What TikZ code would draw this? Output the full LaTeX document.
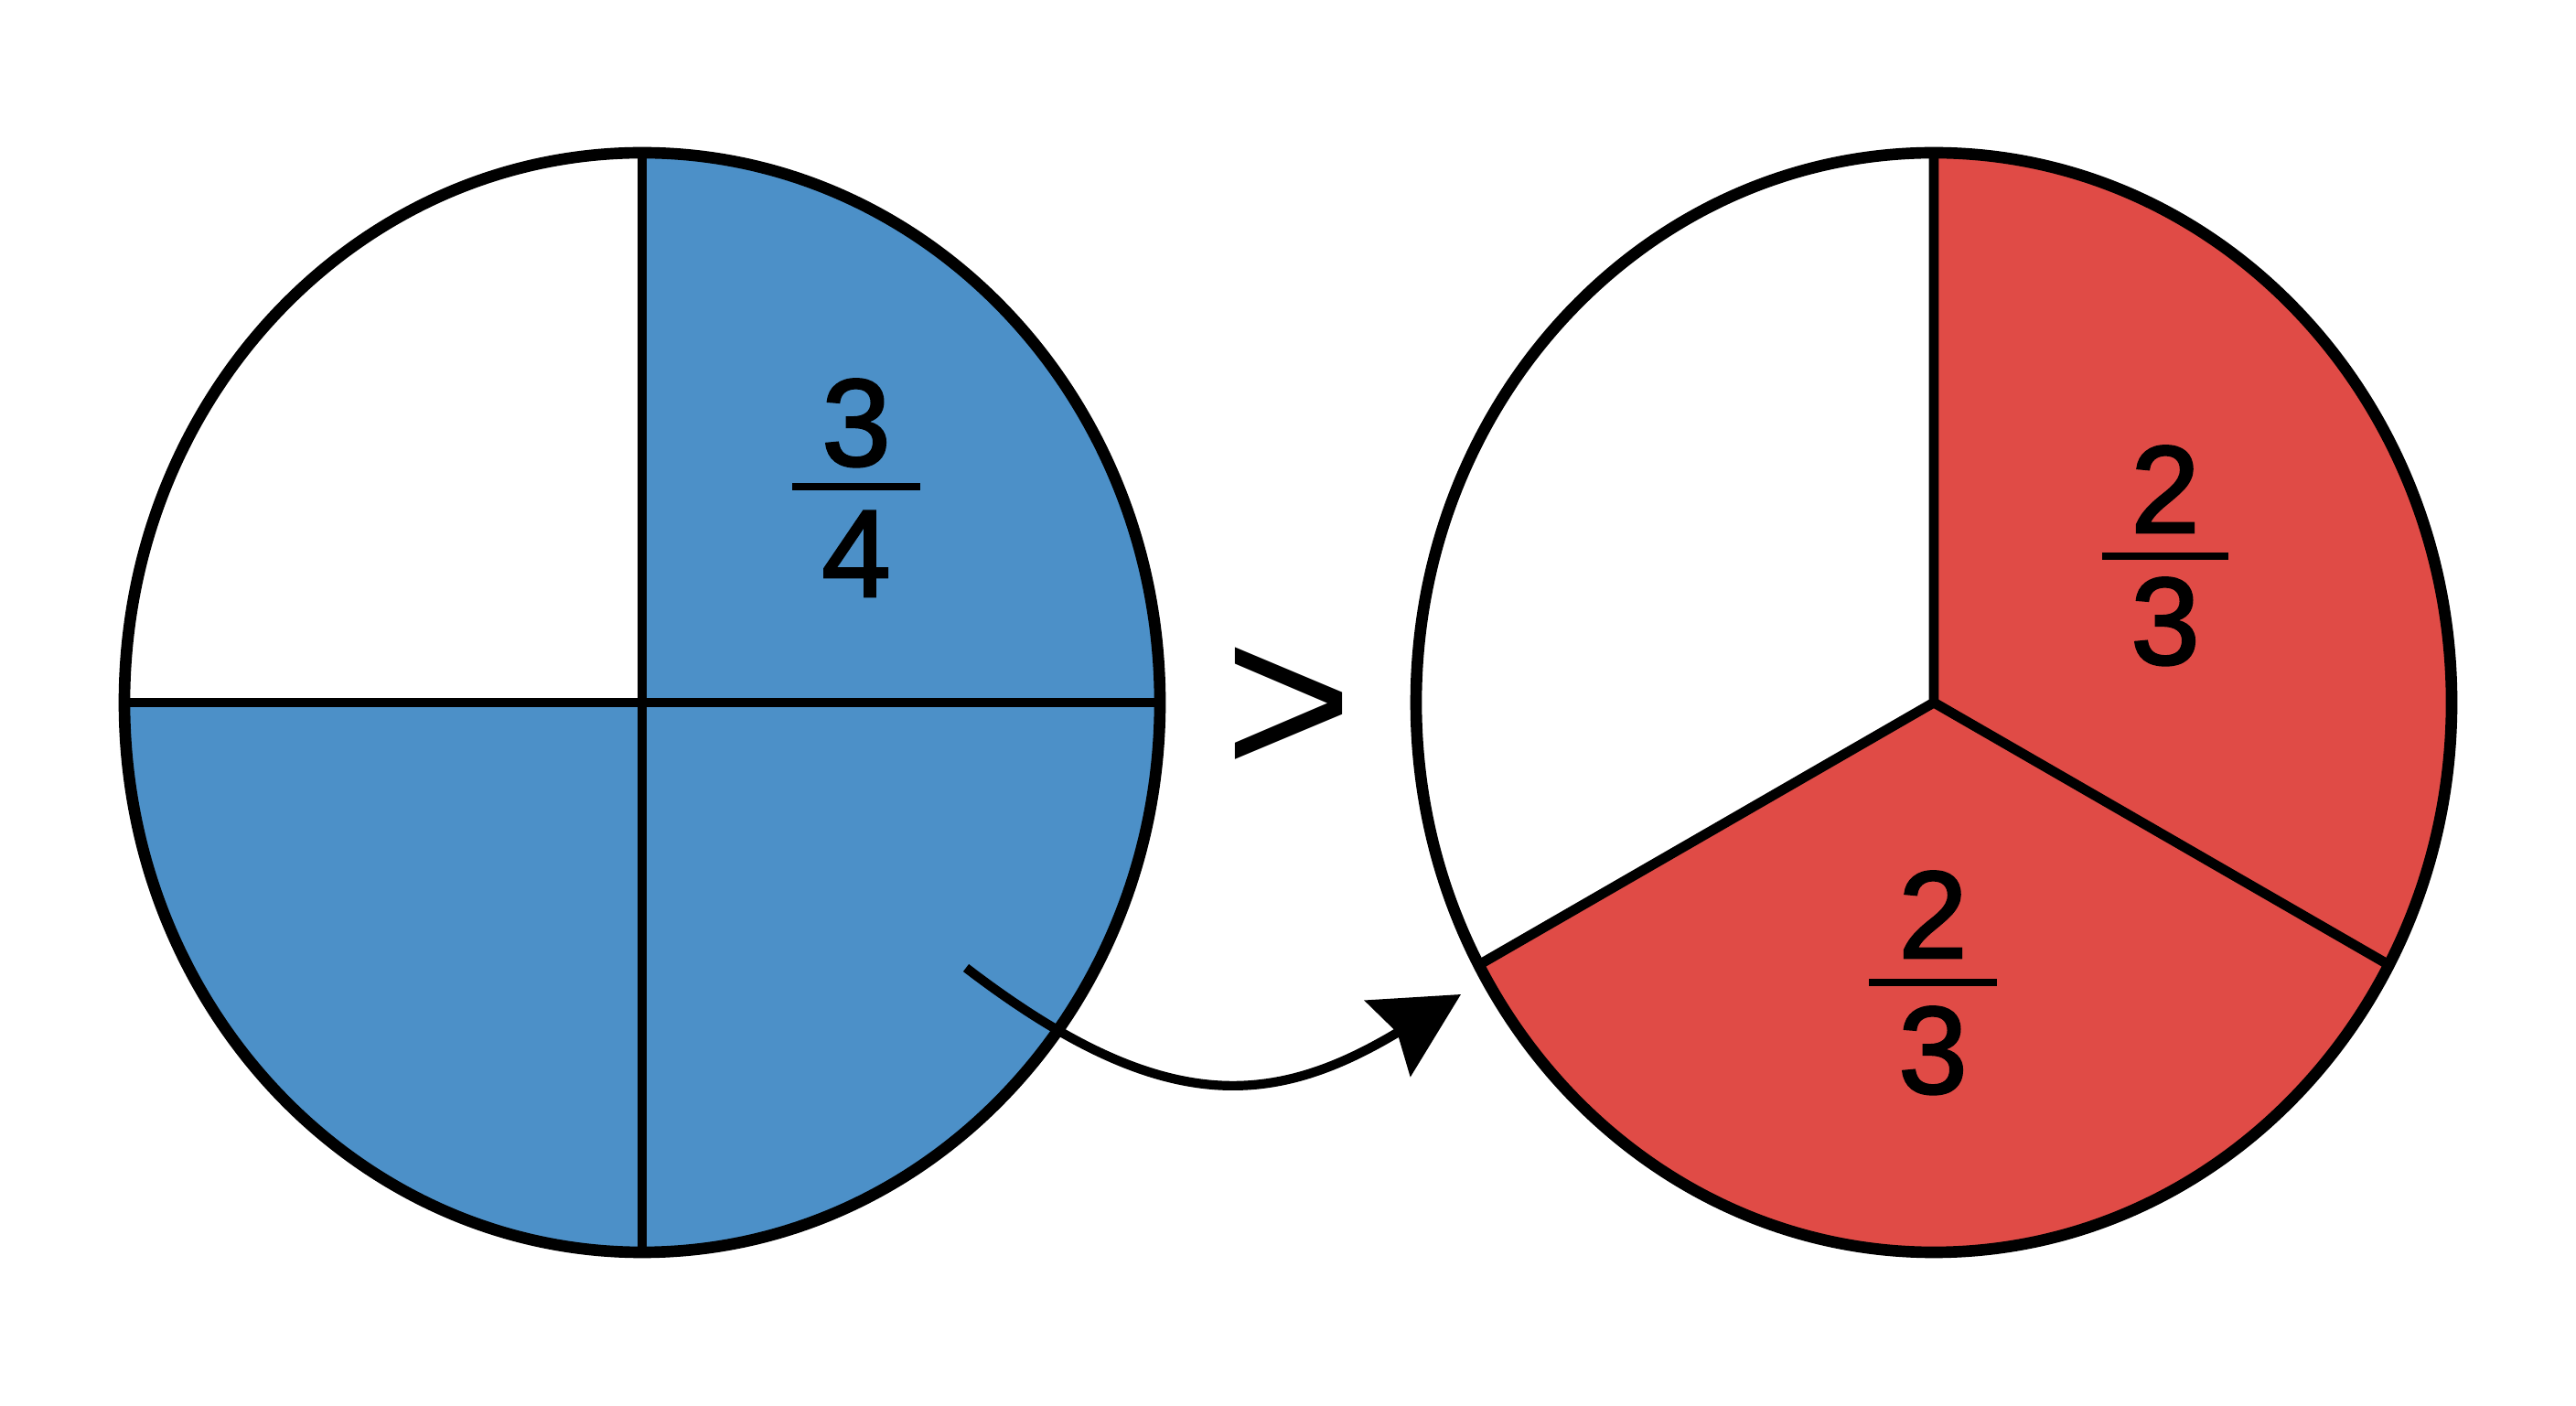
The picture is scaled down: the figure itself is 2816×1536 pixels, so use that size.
\documentclass[tikz,border=0pt]{standalone}
\usepackage{fontspec}
\setmainfont{Liberation Sans}
\newfontfamily\digitfont[FakeBold=2]{Liberation Sans}
\usetikzlibrary{arrows.meta}
\definecolor{pieblue}{RGB}{76,144,200}
\definecolor{piered}{RGB}{224,75,70}
\tikzset{
  outline/.style={draw=black, line width=3.6pt},
  divider/.style={draw=black, line width=3.1pt},
  fracbar/.style={draw=black, line width=2.3pt},
  digit/.style={inner sep=0pt, anchor=base, font=\digitfont\fontsize{38.5}{40}\selectfont},
  relsign/.style={inner sep=0pt, anchor=base, font=\fontsize{68.6}{70}\selectfont},
  curvearrow/.style={draw=black, line width=2.9pt, -{Stealth[length=26.5pt, width=27.3pt, inset=3.4pt]}}
}
\begin{document}
\begin{tikzpicture}[x=0.01cm, y=0.01cm]
\useasboundingbox[fill=white] (0,0) rectangle (2816,1536);
% left pie: 3/4
\coordinate (L) at (702,768);
\coordinate (Ltop) at (702,1369);
\coordinate (Lbot) at (702,167);
\coordinate (Lleft) at (136,768);
\coordinate (Lright) at (1268,768);
\fill[pieblue] (L) -- (Ltop) arc[start angle=90, end angle=-180, x radius=566, y radius=601] -- cycle;
\draw[divider] (Ltop) -- (Lbot);
\draw[divider] (Lleft) -- (Lright);
\draw[outline] (L) ellipse [x radius=566, y radius=601];
% right pie: 2/3
\coordinate (R) at (2114,768);
\coordinate (Rtop) at (2114,1369);
\coordinate (Rll) at (1616.6,481.2);
\coordinate (Rlr) at (2611.4,481.2);
\fill[piered] (R) -- (Rtop) arc[start angle=90, end angle=-151.5, x radius=566, y radius=601] -- cycle;
\draw[divider] (Rtop) -- (R) -- (Rll);
\draw[divider] (R) -- (Rlr);
\draw[outline] (R) ellipse [x radius=566, y radius=601];
% fractions
\node[digit] (ln) at (936,1027) {3};
\draw[fracbar] (866,1004) -- (1006,1004);
\node[digit] (ld) at (936,884) {4};
\node[digit] (rtn) at (2367,954) {2};
\draw[fracbar] (2298,928) -- (2436,928);
\node[digit] (rtd) at (2367,810) {3};
\node[digit] (rbn) at (2113,489) {2};
\draw[fracbar] (2043,462) -- (2183,462);
\node[digit] (rbd) at (2113,341) {3};
% greater-than sign
\node[relsign] (gt) at (1409,687) {>};
% arrow
\coordinate (astart) at (1056,478);
\coordinate (aend) at (1597,449);
\draw[curvearrow] (astart) .. controls (1270,314) and (1391,325) .. (aend);
\end{tikzpicture}
\end{document}
